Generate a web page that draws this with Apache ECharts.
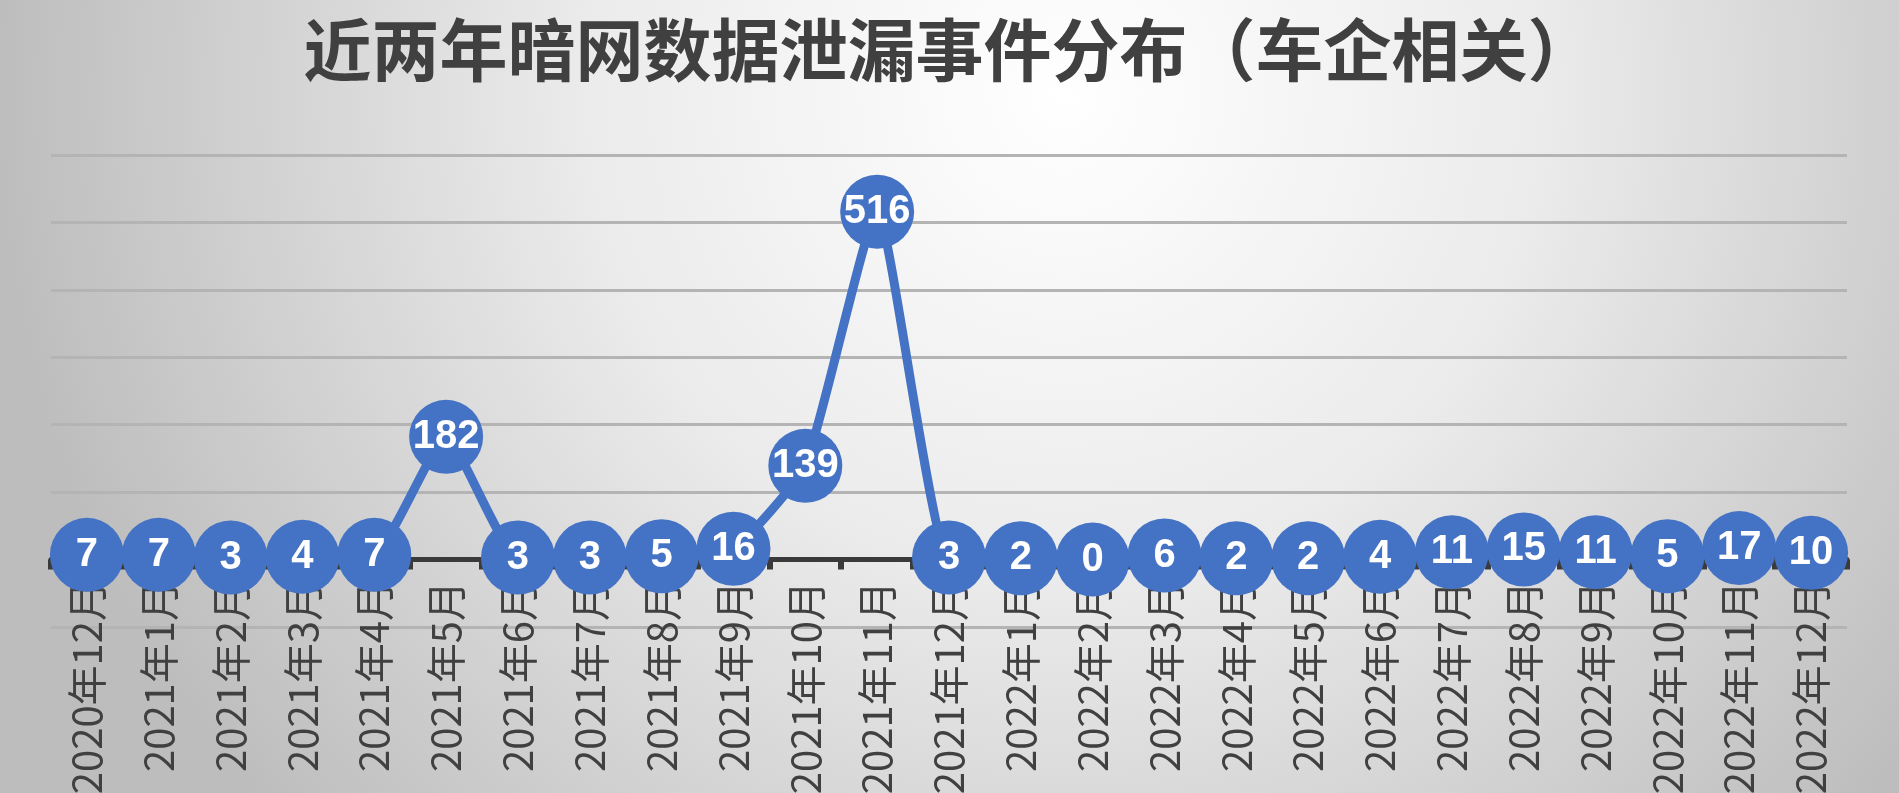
<!DOCTYPE html>
<html>
<head>
<meta charset="utf-8">
<style>
  html, body { margin: 0; padding: 0; }
  #chart { width: 1899px; height: 793px; }
</style>
<script src="https://cdn.jsdelivr.net/npm/echarts@6/dist/echarts.min.js"></script>
</head>
<body>
<div id="chart"></div>
<script>
const months = ['2020年12月', '2021年1月', '2021年2月', '2021年3月', '2021年4月', '2021年5月',
    '2021年6月', '2021年7月', '2021年8月', '2021年9月', '2021年10月', '2021年11月', '2021年12月',
    '2022年1月', '2022年2月', '2022年3月', '2022年4月', '2022年5月', '2022年6月', '2022年7月',
    '2022年8月', '2022年9月', '2022年10月', '2022年11月', '2022年12月'];
const leaks = [7, 7, 3, 4, 7, 182, 3, 3, 5, 16, 139, 516, 3, 2, 0, 6, 2, 2, 4, 11, 15, 11, 5, 17, 10];

const chart = echarts.init(document.getElementById('chart'));

const option = {
    // 背景：上方偏亮的径向渐变
    backgroundColor: {
        type: 'radial', x: 0.56, y: 0.12, r: 1.35,
        colorStops: [
            {offset: 0, color: '#ffffff'},
            {offset: 0.45, color: '#ebebeb'},
            {offset: 1, color: '#bdbdbd'}
        ]
    },
    title: {
        text: '近两年暗网数据泄漏事件分布（车企相关）',
        left: 'center',
        top: 11,
        textStyle: {
            fontFamily: 'Noto Sans CJK SC',
            fontSize: 68,
            fontWeight: 'bold',
            color: '#404040'
        }
    },
    grid: {
        left: 51,
        right: 52,
        top: 155,
        bottom: 166,
        outerBoundsMode: 'none',
        containLabel: false
    },
    xAxis: {
        type: 'category',
        data: months,
        boundaryGap: true,
        axisLine: {
            onZero: true,
            lineStyle: {color: '#3a3a3a', width: 5}
        },
        axisTick: {
            show: true,
            length: 10,
            lineStyle: {color: '#3a3a3a', width: 6}
        },
        axisLabel: {
            interval: 0,
            rotate: 90,
            // 标签贴着零轴而不是网格底边
            margin: -46,
            fontFamily: 'Noto Sans CJK SC',
            fontSize: 40,
            color: '#404040'
        }
    },
    yAxis: {
        type: 'value',
        min: -100,
        max: 600,
        interval: 100,
        axisLine: {show: false},
        axisTick: {show: false},
        axisLabel: {show: false},
        splitLine: {
            lineStyle: {color: '#b4b4b4', width: 3}
        }
    },
    series: [
        {
            name: '泄漏事件',
            type: 'line',
            data: leaks,
            smooth: 0.15,
            symbol: 'circle',
            symbolSize: 74,
            lineStyle: {color: '#4472c4', width: 9},
            itemStyle: {color: '#4472c4'},
            label: {
                show: true,
                position: 'inside',
                fontFamily: 'Liberation Sans',
                fontSize: 40,
                fontWeight: 'bold',
                color: '#ffffff'
            }
        }
    ]
};

chart.setOption(option);
</script>
</body>
</html>
